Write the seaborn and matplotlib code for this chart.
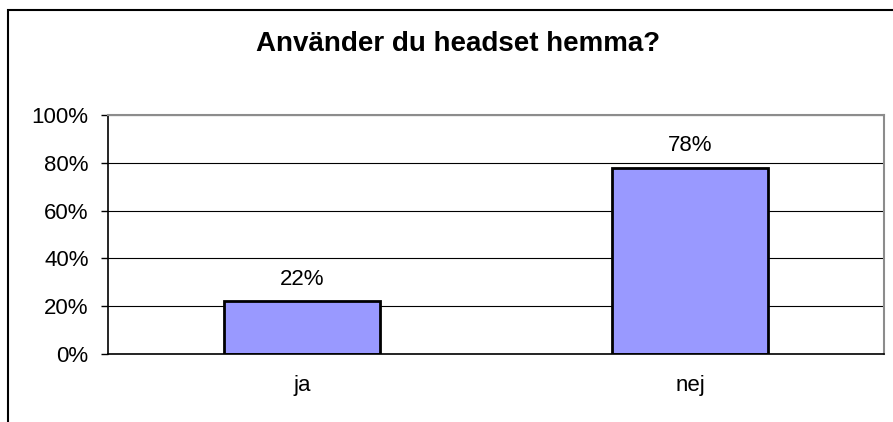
import numpy as np
import pandas as pd
import matplotlib
matplotlib.use("Agg")
import matplotlib.pyplot as plt
import matplotlib.patches as patches
from matplotlib.ticker import PercentFormatter, FixedLocator
import seaborn as sns

categories = ["ja", "nej"]
shares = [0.22, 0.78]
title = "Använder du headset hemma?"

sns.set_style("white")
plt.rcParams["font.family"] = ["Liberation Sans", "DejaVu Sans"]
plt.rcParams["text.color"] = "black"
plt.rcParams["xtick.color"] = "black"
plt.rcParams["ytick.color"] = "black"
plt.rcParams["axes.labelcolor"] = "black"

df = pd.DataFrame({"Svar": categories, "Andel": shares})

fig = plt.figure(figsize=(8.93, 4.22), dpi=100)
ax = fig.add_axes([108 / 893, 68 / 422, (884 - 108) / 893, (354 - 115) / 422])

sns.barplot(data=df, x="Svar", y="Andel", color="#9999FF", saturation=1,
            edgecolor="black", linewidth=2, width=0.4, ax=ax)

# value labels above the bars
for i, v in enumerate(shares):
    ax.annotate(f"{v:.0%}", (i, v), xytext=(0, 12), textcoords="offset points",
                ha="center", va="baseline", fontsize=16, color="black")

ax.set_ylim(0, 1)
ax.set_xlim(-0.5, len(categories) - 0.5)
ax.yaxis.set_major_locator(FixedLocator(np.arange(0, 1.01, 0.2)))
ax.yaxis.set_major_formatter(PercentFormatter(xmax=1, decimals=0))
ax.set_axisbelow(True)
ax.grid(axis="y", color="black", linewidth=0.8)
ax.grid(axis="x", visible=False)

# category boundary ticks on x, labels centred
ax.xaxis.set_minor_locator(FixedLocator(np.arange(-0.5, len(categories), 1.0)))
ax.tick_params(axis="x", which="major", length=0, pad=15, labelsize=16)
ax.tick_params(axis="x", which="minor", length=5, width=1, direction="out", color="black")
ax.tick_params(axis="y", which="major", length=5, width=1, direction="out",
               color="black", pad=9, labelsize=16, left=True)
ax.set_xlabel("")
ax.set_ylabel("")

for side in ["left", "bottom"]:
    ax.spines[side].set_color("black")
    ax.spines[side].set_linewidth(1.2)
for side in ["top", "right"]:
    ax.spines[side].set_visible(True)
    ax.spines[side].set_color("#8c8c8c")
    ax.spines[side].set_linewidth(1.5)

fig.text(458 / 893, 1 - 44 / 422, title, ha="center", va="center",
         fontsize=20, fontweight="bold", color="black")

# outer chart frame (only left and top edges are inside the picture)
fig.add_artist(patches.Rectangle((8 / 893, -0.5), 2, 1.5 - 10 / 422,
                                 transform=fig.transFigure, fill=False,
                                 edgecolor="black", linewidth=1.5))

fig.savefig("out.png", dpi=100)
